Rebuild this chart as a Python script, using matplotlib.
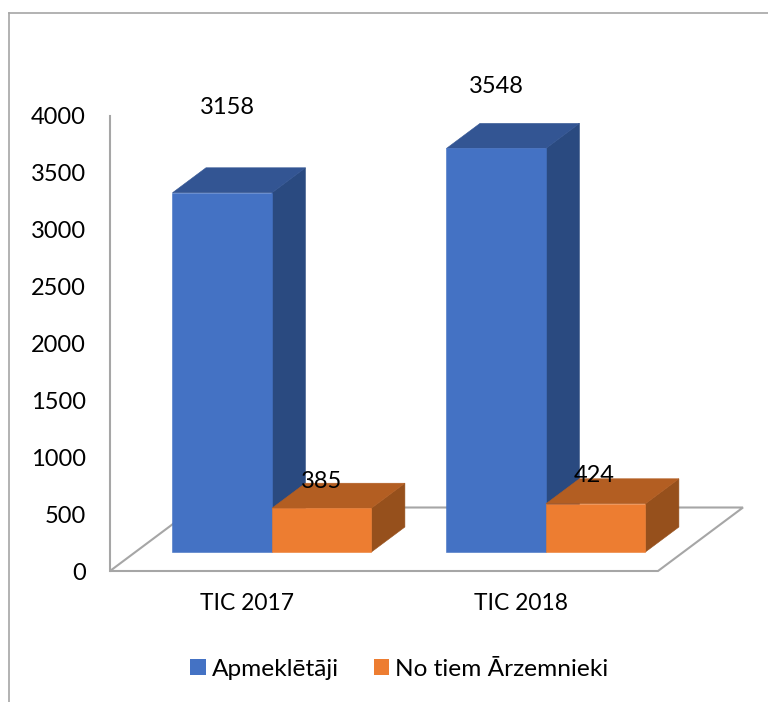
import matplotlib
matplotlib.use('Agg')
import matplotlib.pyplot as plt
from matplotlib.lines import Line2D
from matplotlib.patches import Polygon, Patch

plt.rcParams['font.family'] = ['Lato', 'DejaVu Sans']

# ===== DATA =====
categories = ['TIC 2017', 'TIC 2018']
apmekletaji = [3158, 3548]
arzemnieki = [385, 424]
y_ticks = [0, 500, 1000, 1500, 2000, 2500, 3000, 3500, 4000]
series_names = ['Apmeklētāji', 'No tiem Ārzemnieki']

# ===== STYLE =====
W, H = 768, 702
PX_X = 274.0          # pixels per category
PX_Y = 455 / 4000     # pixels per value unit
BAR_W = 0.363
BAR_SHIFT = -0.272
BASE = 19 / PX_Y      # bars stand a bit behind the floor front edge
DEPTH_X = 33.5 / PX_X
DEPTH_Y = 25 / PX_Y
FLOOR_X = 85 / PX_X
FLOOR_Y = 63.5 / PX_Y
GRAY = '#a6a6a6'

blue = ('#4472c4', '#335593', '#2a4a80')
orange = ('#ed7d31', '#b35e22', '#96501c')

fig = plt.figure(figsize=(W / 100, H / 100), dpi=100)
ax = fig.add_axes([110 / W, 1 - 571 / H, 548 / W, 455 / H])
ax.set_xlim(-0.5, 1.5)
ax.set_ylim(0, 4000)
ax.patch.set_visible(False)

for s in ['top', 'right', 'bottom']:
    ax.spines[s].set_visible(False)
ax.spines['left'].set_color(GRAY)
ax.spines['left'].set_linewidth(1.5)

ax.set_xticks(range(len(categories)), categories)
ax.set_yticks(y_ticks)
ax.tick_params(axis='both', length=0, labelcolor='black')
ax.tick_params(axis='y', pad=17.5, labelsize=17)
ax.tick_params(axis='x', pad=16, labelsize=16.4)


def box(x, value, colors):
    top = BASE + value
    front = [(x, BASE), (x + BAR_W, BASE), (x + BAR_W, top), (x, top)]
    roof = [(x, top), (x + BAR_W, top),
            (x + BAR_W + DEPTH_X, top + DEPTH_Y), (x + DEPTH_X, top + DEPTH_Y)]
    side = [(x + BAR_W, BASE), (x + BAR_W + DEPTH_X, BASE + DEPTH_Y),
            (x + BAR_W + DEPTH_X, top + DEPTH_Y), (x + BAR_W, top)]
    for pts, c in zip([side, roof, front], [colors[2], colors[1], colors[0]]):
        ax.add_patch(Polygon(pts, closed=True, facecolor=c, edgecolor=c,
                             linewidth=0.4, clip_on=False, zorder=3))


# ===== FLOOR =====
floor = [(-0.5, 0), (1.5, 0), (1.5 + FLOOR_X, FLOOR_Y), (-0.5 + FLOOR_X, FLOOR_Y)]
ax.add_patch(Polygon(floor, closed=True, fill=False, edgecolor=GRAY,
                     linewidth=1.5, clip_on=False, zorder=1))

# ===== BARS =====
# draw back-to-front so the orange roof sits over the blue side
for i in range(len(categories)):
    x = i + BAR_SHIFT
    box(x, apmekletaji[i], blue)
    box(x + BAR_W, arzemnieki[i], orange)

# ===== LABELS =====
offsets_a = [(5, 85), (0, 62)]
offsets_b = [(0, 27), (-1, 28)]
for i in range(len(categories)):
    x = i + BAR_SHIFT
    ax.annotate(str(apmekletaji[i]), (x + BAR_W / 2, BASE + apmekletaji[i]),
                xytext=offsets_a[i], textcoords='offset pixels', ha='center',
                va='center', fontsize=17, color='black', zorder=5, annotation_clip=False)
    ax.annotate(str(arzemnieki[i]), (x + BAR_W * 1.5, BASE + arzemnieki[i]),
                xytext=offsets_b[i], textcoords='offset pixels', ha='center',
                va='center', fontsize=17, color='black', zorder=5, annotation_clip=False)

# ===== LEGEND =====
handles = [Patch(facecolor=blue[0]), Patch(facecolor=orange[0])]
fig.legend(handles, series_names, loc='center', bbox_to_anchor=(399.5 / W, 1 - 669 / H),
           ncol=2, frameon=False, fontsize=17.6, handlelength=0.62, handleheight=0.62,
           handletextpad=0.25, columnspacing=1.44, borderpad=0)

# ===== OUTER FRAME (top and left only) =====
fig.add_artist(Line2D([9 / W, 9 / W], [0, 1 - 13 / H], color=GRAY, linewidth=1.2))
fig.add_artist(Line2D([9 / W, 1], [1 - 13 / H, 1 - 13 / H], color=GRAY, linewidth=1.2))

fig.savefig('out.png', dpi=100)
